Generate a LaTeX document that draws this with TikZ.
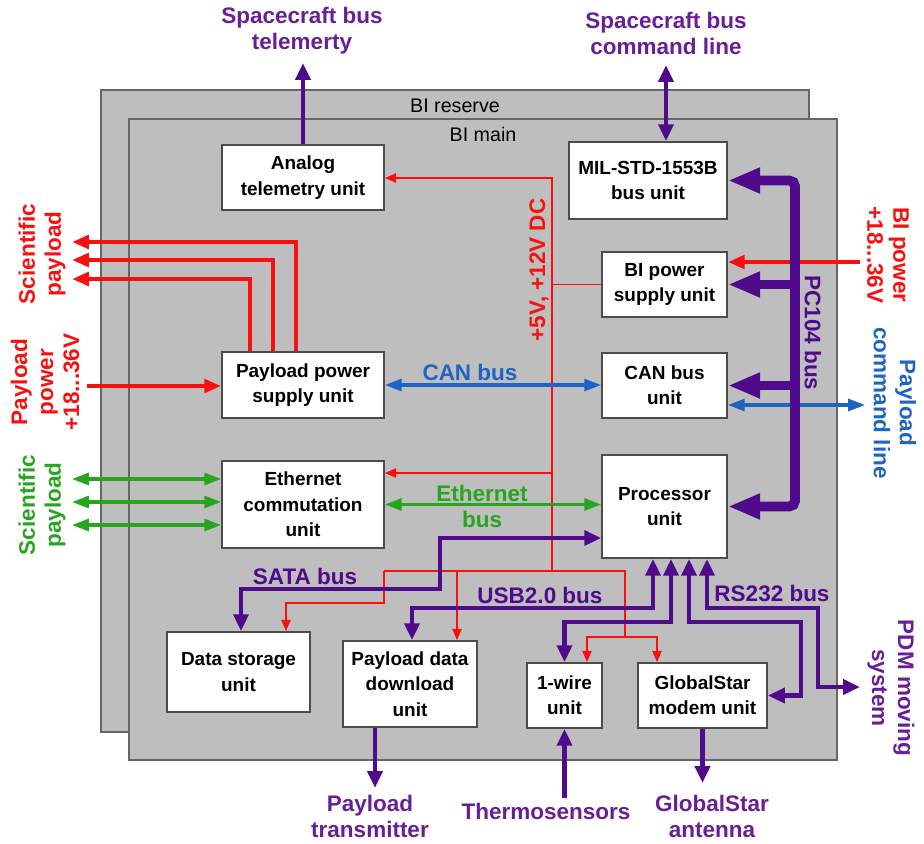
\documentclass[tikz,border=0pt]{standalone}
\usepackage{fontspec}
\setmainfont{Liberation Sans}
\usetikzlibrary{arrows.meta}
\definecolor{panelgray}{RGB}{190,190,190}
\definecolor{pcol}{RGB}{80,10,140}
\definecolor{plab}{RGB}{105,30,150}
\definecolor{rcol}{RGB}{250,15,15}
\definecolor{bcol}{RGB}{30,100,195}
\definecolor{gcol}{RGB}{40,165,30}
\newcommand{\unitfont}{\fontsize{13.5}{18}\selectfont\bfseries}
\newcommand{\labfont}{\fontsize{16}{18.5}\selectfont\bfseries}
\newcommand{\panelfont}{\fontsize{14}{16}\selectfont}
\begin{document}
\begin{tikzpicture}[x=0.025cm, y=-0.025cm,
  panel/.style={draw=black!60, fill=panelgray, line width=1.2pt},
  unit/.style={draw=black!70, fill=white, line width=1.2pt, align=center, inner sep=0pt, font=\unitfont},
  lab/.style={align=center, font=\labfont},
  pline/.style={draw=pcol, line width=3pt, >={Triangle[length=12pt,width=10.5pt]}},
  pcbus/.style={draw=pcol, line width=7pt, rounded corners=4pt, >={Triangle[length=23pt,width=17pt]}},
  rline/.style={draw=rcol, line width=1.4pt, >={Triangle[length=8pt,width=6.5pt]}},
  rthick/.style={draw=rcol, line width=3.2pt, >={Triangle[length=12pt,width=9.5pt]}},
  bline/.style={draw=bcol, line width=2.2pt, >={Triangle[length=12pt,width=8.5pt]}},
  gline/.style={draw=gcol, line width=2.2pt, >={Triangle[length=12pt,width=8.5pt]}}]
\useasboundingbox (0,0) rectangle (924,843);

\draw[panel] (101,90) rectangle (809,732);
\node[font=\panelfont] (reslab) at (455,106) {BI reserve};
\draw[panel] (129,119) rectangle (837,760);
\node[font=\panelfont] (mainlab) at (483,134) {BI main};

% units
\node[unit, minimum width=4.05cm, minimum height=1.625cm] (analog) at (303,177.5) {Analog\\telemetry unit};
\node[unit, minimum width=3.95cm, minimum height=1.925cm] (mil) at (648,180.5) {MIL-STD-1553B\\bus unit};
\node[unit, minimum width=3.125cm, minimum height=1.625cm] (bipsu) at (664.5,284.5) {BI power\\supply unit};
\node[unit, minimum width=3.125cm, minimum height=1.625cm] (can) at (664.5,385.5) {CAN bus\\unit};
\node[unit, minimum width=3.125cm, minimum height=2.575cm] (proc) at (664.5,506.5) {Processor\\unit};
\node[unit, minimum width=4.05cm, minimum height=1.65cm] (pps) at (303,385) {Payload power\\supply unit};
\node[unit, minimum width=4.05cm, minimum height=2.175cm] (eth) at (303,504.5) {Ethernet\\commutation\\unit};
\node[unit, minimum width=3.575cm, minimum height=2cm] (store) at (238.5,672) {Data storage\\unit};
\node[unit, minimum width=3.35cm, minimum height=2.15cm] (pdd) at (410,684) {Payload data\\download\\unit};
\node[unit, minimum width=1.875cm, minimum height=1.625cm] (wire) at (564.5,695.5) {1-wire\\unit};
\node[unit, minimum width=3.225cm, minimum height=1.625cm] (gsm) at (702.5,695.5) {GlobalStar\\modem unit};

% power lines
\coordinate (ptop) at (552,178);
\coordinate (pl) at (384,571);
\coordinate (pr) at (625,571);
\coordinate (peth) at (552,473);
\coordinate (pst) at (286,603);
\coordinate (pdl) at (457,571);
\coordinate (pgs) at (625,637);
\draw[rline,->] (ptop |- pl) -- (ptop) -- (ptop -| analog.east);
\draw[rline] (ptop |- bipsu.west) -- (bipsu.west);
\draw[rline,->] (peth) -- (peth -| eth.east);
\draw[rline] (pl) -- (pr) -- (pgs);
\draw[rline,->] (pl) |- (pst) -- (pst |- store.north);
\draw[rline,->] (pdl) -- (pdl |- pdd.north);
\draw[rline,<->] (wire.north -| 587,0) |- (pgs) -| (gsm.north -| 657,0);
\node[lab, rotate=90, text=rcol] (dclab) at (539,270) {+5V, +12V DC};

\coordinate (sp1) at (72,242);
\coordinate (sp2) at (72,260);
\coordinate (sp3) at (72,279);
\draw[rthick,->] (pps.north -| 296,0) |- (sp1);
\draw[rthick,->] (pps.north -| 273,0) |- (sp2);
\draw[rthick,->] (pps.north -| 250,0) |- (sp3);
\node[lab, rotate=90, text=rcol] (splab) at (42,254) {Scientific\\payload};
\coordinate (ppin) at (87,386);
\draw[rthick,->] (ppin) -- (pps.west |- ppin);
\node[lab, rotate=90, text=rcol] (pplab) at (45,382) {Payload\\power\\+18...36V};
\coordinate (bipin) at (860,262);
\draw[rthick,->] (bipin) -- (bipsu.east |- bipin);
\node[lab, rotate=-90, text=rcol] (biplab) at (888,255) {BI power\\+18...36V};

% CAN and Ethernet
\draw[bline,<->] (pps.east) -- (pps.east -| can.west);
\node[lab, text=bcol] (canlab) at (470,372) {CAN bus};
\coordinate (pcl) at (865,405);
\draw[bline,<->] (can.east |- pcl) -- (pcl);
\node[lab, rotate=-90, text=bcol] (pcllab) at (895,403) {Payload\\command line};
\draw[gline,<->] (eth.east) -- (eth.east -| proc.west);
\node[lab, text=gcol] (ethlab) at (482,506) {Ethernet\\bus};
\coordinate (sg1) at (72,479);
\coordinate (sg2) at (72,502);
\coordinate (sg3) at (72,525);
\draw[gline,<->] (sg1) -- (eth.west |- sg1);
\draw[gline,<->] (sg2) -- (eth.west |- sg2);
\draw[gline,<->] (sg3) -- (eth.west |- sg3);
\node[lab, rotate=90, text=gcol] (sglab) at (42,505) {Scientific\\payload};

% PC104 bus
\coordinate (pcbot) at (795,506.5);
\draw[pcbus,<->] (mil.east) -| (pcbot) -- (proc.east);
\draw[pcbus,->] (pcbot |- bipsu.east) -- (bipsu.east);
\draw[pcbus,->] (pcbot |- can.east) -- (can.east);
\node[lab, rotate=-90, text=pcol] (pclab) at (813,333) {PC104 bus};

% data buses
\coordinate (tlm) at (303,63);
\draw[pline,->] (analog.north) -- (tlm);
\node[lab, text=plab] (tlmlab) at (302,31) {Spacecraft bus\\telemerty};
\coordinate (cmd) at (666,65);
\draw[pline,<->] (cmd) -- (cmd |- mil.north);
\node[lab, text=plab] (cmdlab) at (666,33) {Spacecraft bus\\command line};
\coordinate (sata) at (440,589);
\draw[pline,<->] (proc.west |- 0,538) -| (sata) -| (store.north -| 241,0);
\node[lab, text=pcol] (satalab) at (305,576) {SATA bus};
\coordinate (usb) at (412,608);
\draw[pline,<->] (proc.south -| 653,0) |- (usb) -- (usb |- pdd.north);
\draw[pline,<->] (proc.south -| 671,0) |- (wire.north |- 0,622) -- (wire.north);
\draw[pline,<->] (proc.south -| 689,0) |- (801,622) |- (gsm.east);
\node[lab, text=pcol] (usblab) at (540,595) {USB2.0 bus};
\coordinate (pdm) at (860,687);
\draw[pline,<->] (proc.south -| 707,0) |- (818,608) |- (pdm);
\node[lab, text=pcol] (rslab) at (772,593) {RS232 bus};
\node[lab, rotate=-90, text=plab] (pdmlab) at (891,688) {PDM moving\\system};

\coordinate (ptx) at (375,788);
\draw[pline,->] (pdd.south -| ptx) -- (ptx);
\node[lab, text=plab] (ptxlab) at (370,816) {Payload\\transmitter};
\coordinate (ths) at (564.5,798);
\draw[pline,->] (ths) -- (wire.south);
\node[lab, text=plab] (thslab) at (546,811) {Thermosensors};
\coordinate (gsa) at (702.5,783);
\draw[pline,->] (gsm.south) -- (gsa);
\node[lab, text=plab] (gsalab) at (712,816) {GlobalStar\\antenna};
\end{tikzpicture}
\end{document}
